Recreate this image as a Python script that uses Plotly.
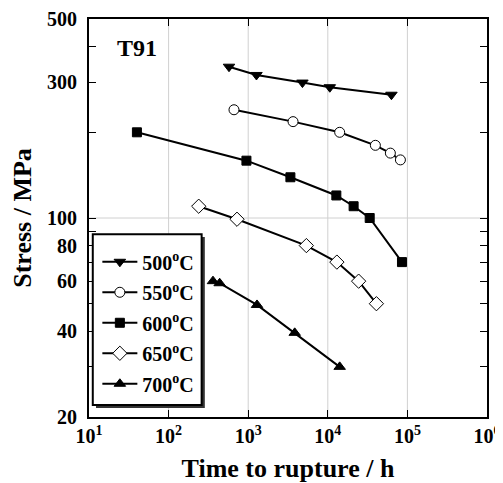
import plotly.graph_objects as go

# ============================================================
# DATA
# ============================================================
t_500 = [574, 1270, 4800, 10600, 63000]
s_500 = [340, 318, 299, 288, 271]

t_550 = [663, 3660, 14100, 39600, 61100, 81700]
s_550 = [240, 218, 200, 180, 169, 160]

t_600 = [40, 950, 3390, 12800, 21100, 33600, 85500]
s_600 = [200, 159, 139, 120, 110, 100, 70]

t_650 = [239, 723, 5380, 13000, 24400, 40800]
s_650 = [110, 99, 80, 70, 60, 50]

t_700 = [361, 438, 1290, 3840, 14100]
s_700 = [60, 59, 49.5, 39.5, 30]

names = ["500<sup>o</sup>C", "550<sup>o</sup>C", "600<sup>o</sup>C",
         "650<sup>o</sup>C", "700<sup>o</sup>C"]

x_ticks = [1e1, 1e2, 1e3, 1e4, 1e5, 1e6]
x_labels = ["10<sup>1</sup>", "10<sup>2</sup>", "10<sup>3</sup>",
            "10<sup>4</sup>", "10<sup>5</sup>", "10<sup>6</sup>"]
y_ticks = [20, 40, 60, 80, 100, 300, 500]
y_minor = [30, 50, 70, 90, 200, 400]

FONT = "Liberation Serif"

# ============================================================
# FIGURE
# ============================================================
series = [
    (t_500, s_500, "triangle-down", "black", 10),
    (t_550, s_550, "circle", "white", 10),
    (t_600, s_600, "square", "black", 9),
    (t_650, s_650, "diamond", "white", 11),
    (t_700, s_700, "triangle-up", "black", 10),
]

fig = go.Figure()
for i, ((t, s, sym, fill, size), name) in enumerate(zip(series, names)):
    fig.add_trace(go.Scatter(
        x=t, y=s, name=name, mode="lines+markers", legendgroup=f"g{i}",
        line=dict(color="black", width=2),
        marker=dict(symbol=sym, color=fill, size=size,
                    line=dict(color="black", width=1)),
    ))

# light grid lines
for d in x_ticks[1:-1]:
    fig.add_vline(x=d, line=dict(color="#d0d0d0", width=1), layer="below")
fig.add_hline(y=100, line=dict(color="#d0d0d0", width=1), layer="below")

# legend box with drop shadow
fig.add_shape(type="rect", xref="paper", yref="paper",
              x0=0.0176, x1=0.291, y0=0.0226, y1=0.452,
              fillcolor="#333333", line=dict(width=0), layer="above")
fig.add_shape(type="rect", xref="paper", yref="paper",
              x0=0.0095, x1=0.283, y0=0.030, y1=0.459,
              fillcolor="white", line=dict(color="black", width=2), layer="above")

fig.add_annotation(text="T91", xref="paper", yref="paper",
                   x=0.065, y=0.927, xanchor="left", yanchor="middle",
                   showarrow=False,
                   font=dict(family=FONT, size=24, color="black", weight="bold"))

fig.update_xaxes(
    type="log", range=[1, 6], automargin=False,
    tickmode="array", tickvals=x_ticks, ticktext=x_labels,
    showline=True, linecolor="black", linewidth=2, mirror="ticks",
    ticks="inside", ticklen=7, tickcolor="black", tickwidth=1,
    showgrid=False, zeroline=False,
    tickfont=dict(family=FONT, size=20, color="black", weight="bold"),
    title=dict(text="Time to rupture / h", standoff=22,
               font=dict(family=FONT, size=26, color="black", weight="bold")),
)
fig.update_yaxes(
    type="log", range=[1.30103, 2.69897], automargin=False,
    tickmode="array", tickvals=y_ticks, ticktext=[str(v) for v in y_ticks],
    minor=dict(tickmode="array", tickvals=y_minor, ticks="inside",
               ticklen=7, tickcolor="black", showgrid=False),
    showline=True, linecolor="black", linewidth=2, mirror="ticks",
    ticks="inside", ticklen=7, tickcolor="black", tickwidth=1,
    ticklabelstandoff=6,
    showgrid=False, zeroline=False,
    tickfont=dict(family=FONT, size=20, color="black", weight="bold"),
    title=dict(text="Stress / MPa", standoff=22,
               font=dict(family=FONT, size=26, color="black", weight="bold")),
)

# page body has an 8px margin, so the figure is 8px smaller
fig.update_layout(
    width=495, height=475,
    margin=dict(l=81, r=16, t=11, b=66),
    plot_bgcolor="white", paper_bgcolor="white",
    legend=dict(x=0.021, y=0.439, xanchor="left", yanchor="top",
                bgcolor="rgba(0,0,0,0)", borderwidth=0, tracegroupgap=1.5,
                font=dict(family=FONT, size=20, color="black", weight="bold"),
                itemwidth=35),
)

fig.write_html("out.html")
